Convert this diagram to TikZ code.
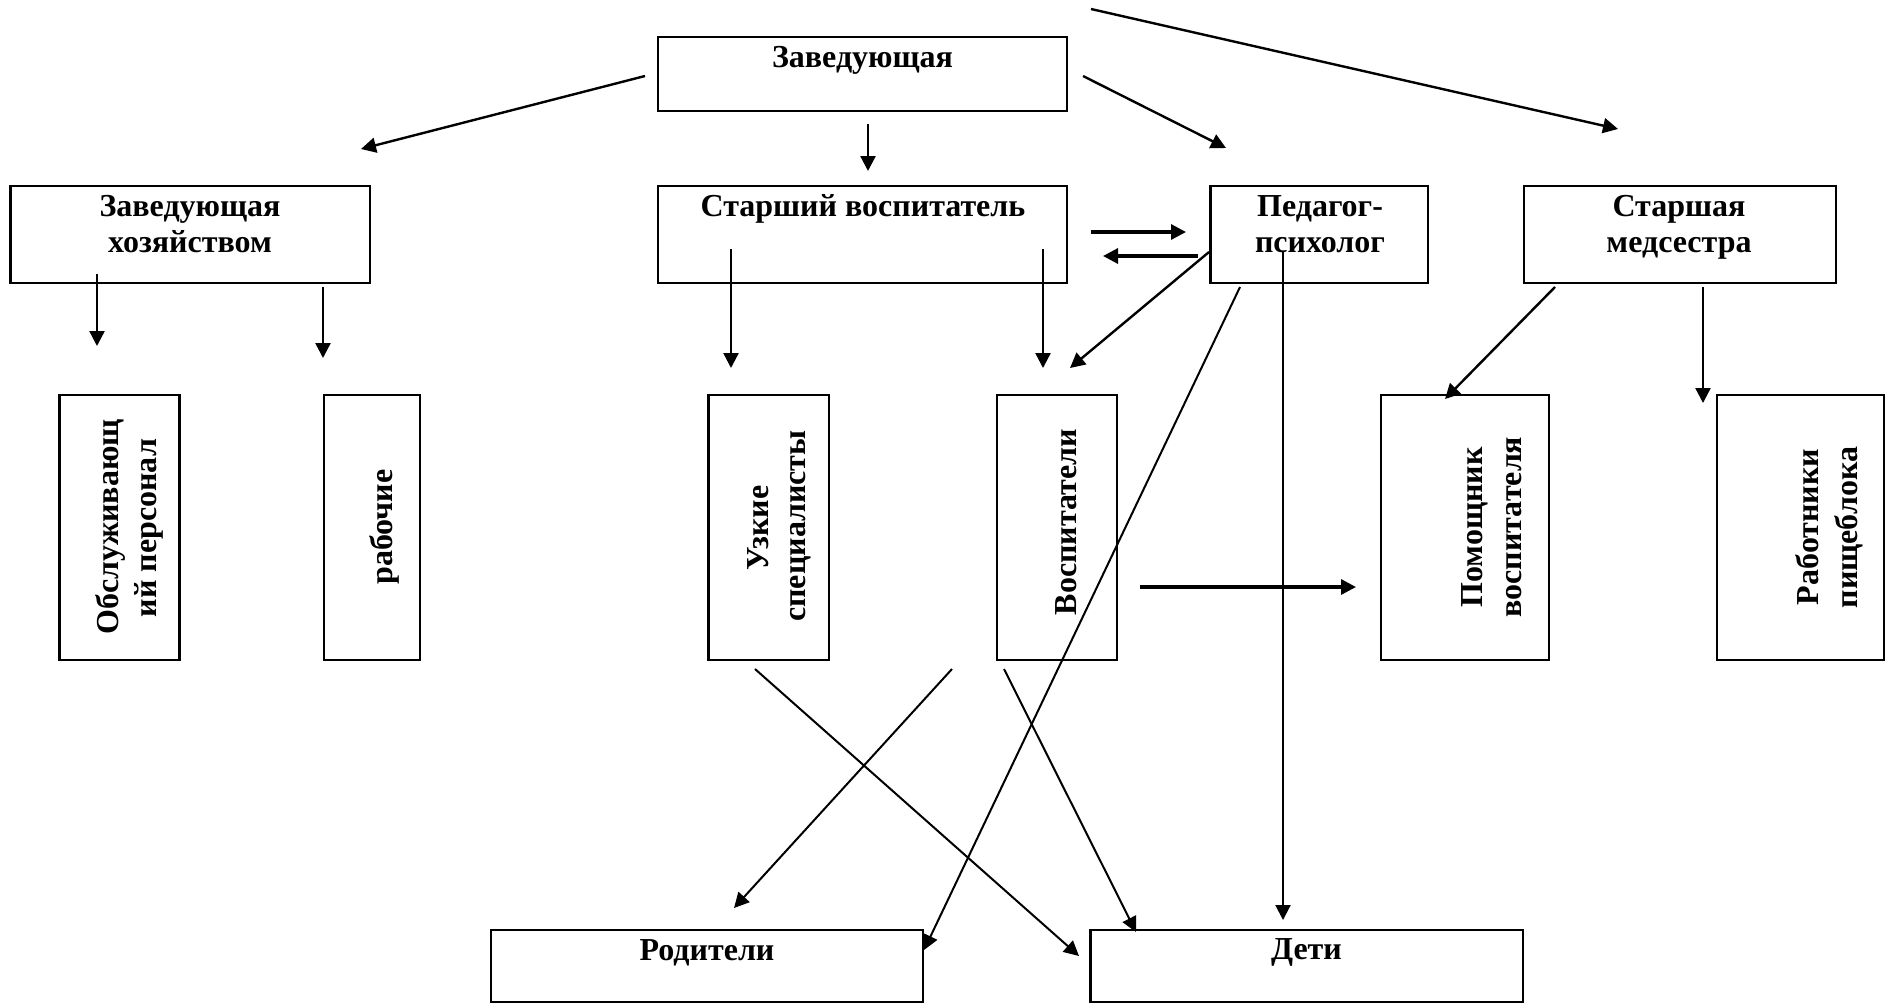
\documentclass[tikz,border=0pt]{standalone}
\usepackage{fontspec}
\setmainfont{Liberation Serif}
\usetikzlibrary{arrows.meta}
\begin{document}
\begin{tikzpicture}[x=0.5pt,y=-0.5pt,
  box/.style={draw, line width=1.2pt, inner sep=0pt, outer sep=0pt},
  txt/.style={font=\bfseries\fontsize{16}{18}\selectfont, inner sep=0pt, anchor=base},
  vtxt/.style={txt, rotate=90},
  arr/.style={line width=1.2pt, -{Triangle[length=7.5pt,width=7.5pt]}},
  thinarr/.style={line width=1pt, -{Triangle[length=7.5pt,width=7.5pt]}},
  thickarr/.style={line width=1.6pt, -{Triangle[length=7.5pt,width=7.5pt]}}]
\useasboundingbox (0,0) rectangle (1885,1003);

% boxes
\node[box, minimum width=204.5pt, minimum height=37pt]    (zav) at (862.5,74) {};
\node[box, minimum width=179.75pt, minimum height=48.5pt] (hoz) at (190.25,234.5) {};
\node[box, minimum width=204.5pt, minimum height=48.5pt]  (star) at (862.5,234.5) {};
\node[box, minimum width=108.75pt, minimum height=48.5pt] (ped) at (1319.25,234.5) {};
\node[box, minimum width=156pt, minimum height=48.5pt]    (med) at (1680,234.5) {};
\node[box, minimum width=60pt, minimum height=132.5pt]    (obs) at (119.5,527.5) {};
\node[box, minimum width=48pt, minimum height=132.5pt]    (rab) at (372,527.5) {};
\node[box, minimum width=60.25pt, minimum height=132.5pt] (uzk) at (768.75,527.5) {};
\node[box, minimum width=60pt, minimum height=132.5pt]    (vos) at (1057,527.5) {};
\node[box, minimum width=84pt, minimum height=132.5pt]    (pom) at (1465,527.5) {};
\node[box, minimum width=83.35pt, minimum height=132.5pt] (rbt) at (1800.6,527.5) {};
\node[box, minimum width=216.15pt, minimum height=36pt]   (rod) at (706.85,966) {};
\node[box, minimum width=216.25pt, minimum height=36pt]   (det) at (1306.75,966) {};

% texts
\node[txt] (zavT) at (862.5,67.5) {Заведующая};
\node[txt] (hozT1) at (190,216) {Заведующая};
\node[txt] (hozT2) at (190,252.5) {хозяйством};
\node[txt] (starT) at (863,216) {Старший воспитатель};
\node[txt] (pedT1) at (1320,216) {Педагог-};
\node[txt] (pedT2) at (1320,252) {психолог};
\node[txt] (medT1) at (1679,216) {Старшая};
\node[txt] (medT2) at (1679,252) {медсестра};
\node[txt] (rodT) at (707,960) {Родители};
\node[txt] (detT) at (1306.5,959) {Дети};

\node[vtxt] (obsT1) at (118,527) {Обслуживающ};
\node[vtxt] (obsT2) at (156,528) {ий персонал};
\node[vtxt] (rabT) at (392,527) {рабочие};
\node[vtxt] (uzkT1) at (768,528) {Узкие};
\node[vtxt] (uzkT2) at (805,526) {специалисты};
\node[vtxt] (vosT) at (1076,522) {Воспитатели};
\node[vtxt] (pomT1) at (1482,527.5) {Помощник};
\node[vtxt] (pomT2) at (1521,527) {воспитателя};
\node[vtxt] (rbtT1) at (1818,527) {Работники};
\node[vtxt] (rbtT2) at (1857,527.5) {пищеблока};

% connector end points
\coordinate (a1s) at (645,76);   \coordinate (a1e) at (361,149);
\coordinate (a2s) at (868,124);  \coordinate (a2e) at (868,171);
\coordinate (a3s) at (1083,76);  \coordinate (a3e) at (1226,148);
\coordinate (a4s) at (1091,9);   \coordinate (a4e) at (1618,129);
\coordinate (a5s) at (97,274);   \coordinate (a5e) at (97,346);
\coordinate (a6s) at (323,287);  \coordinate (a6e) at (323,358);
\coordinate (a7s) at (731,249);  \coordinate (a7e) at (731,368);
\coordinate (a8s) at (1043,249); \coordinate (a8e) at (1043,368);
\coordinate (a9s) at (1091,232); \coordinate (a9e) at (1186,232);
\coordinate (a10s) at (1198,256); \coordinate (a10e) at (1103,256);
\coordinate (a11s) at (1209,252); \coordinate (a11e) at (1070,368);
\coordinate (a12s) at (1240,287); \coordinate (a12e) at (924,950);
\coordinate (a13s) at (1283,252); \coordinate (a13e) at (1283,920);
\coordinate (a14s) at (1555,287); \coordinate (a14e) at (1445,399);
\coordinate (a15s) at (1703,287); \coordinate (a15e) at (1703,403);
\coordinate (a16s) at (1140,587); \coordinate (a16e) at (1356,587);
\coordinate (a17s) at (755,669);  \coordinate (a17e) at (1079,956);
\coordinate (a18s) at (952,669);  \coordinate (a18e) at (734,908);
\coordinate (a19s) at (1004,669); \coordinate (a19e) at (1136,932);

% connectors
\draw[arr] (a1s) -- (a1e);
\draw[arr] (a2s) -- (a2e);
\draw[arr] (a3s) -- (a3e);
\draw[arr] (a4s) -- (a4e);
\draw[arr] (a5s) -- (a5e);
\draw[arr] (a6s) -- (a6e);
\draw[arr] (a7s) -- (a7e);
\draw[arr] (a8s) -- (a8e);
\draw[thickarr] (a9s) -- (a9e);
\draw[thickarr] (a10s) -- (a10e);
\draw[arr] (a11s) -- (a11e);
\draw[thinarr] (a12s) -- (a12e);
\draw[thinarr] (a13s) -- (a13e);
\draw[arr] (a14s) -- (a14e);
\draw[arr] (a15s) -- (a15e);
\draw[thickarr] (a16s) -- (a16e);
\draw[thinarr] (a17s) -- (a17e);
\draw[thinarr] (a18s) -- (a18e);
\draw[thinarr] (a19s) -- (a19e);
\end{tikzpicture}
\end{document}
